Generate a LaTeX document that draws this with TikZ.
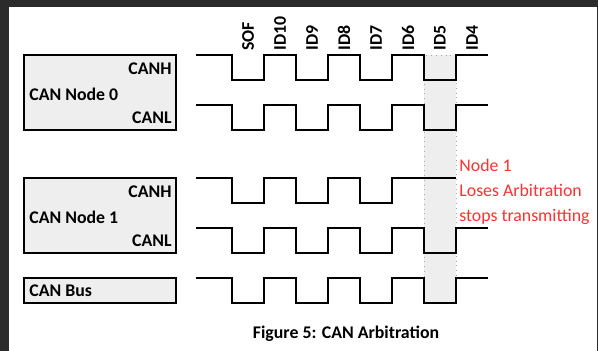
\documentclass[tikz,border=0pt]{standalone}
\usepackage{fontspec}
\setmainfont{Carlito}
\definecolor{framegray}{HTML}{2B2B2B}
\definecolor{boxgray}{HTML}{EEEEEE}
\definecolor{lostred}{HTML}{FF3333}

% one CAN waveform: #1 = high level, #2 = low level
\newcommand{\canwave}[2]{%
  \draw[wave] (196,#1) -- (232,#1) -- (232,#2) -- (264,#2) -- (264,#1)
    -- (296,#1) -- (296,#2) -- (328,#2) -- (328,#1) -- (360,#1)
    -- (360,#2) -- (392,#2) -- (392,#1) -- (424,#1) -- (424,#2)
    -- (456,#2) -- (456,#1) -- (488,#1);}

\begin{document}
\begin{tikzpicture}[
  x=0.5pt, y=-0.5pt,
  txt/.style={font=\fontsize{8.9}{12.4}\selectfont\bfseries, inner sep=0pt},
  unit/.style={draw, line width=1pt, fill=boxgray, minimum width=76pt,
               inner sep=0pt},
  wave/.style={line width=1.2pt},
  bitlbl/.style={txt, rotate=90, anchor=west},
]
\useasboundingbox (0,0) rectangle (598,351);
\fill[framegray] (0,0) rectangle (598,351);
\fill[white] (9,7) rectangle (597,351);

% ---- Column where node 1 loses arbitration ----
\draw[gray!70, dotted, fill=boxgray] (424,55) rectangle (456,303);

% ---- Bit labels ----
\node[bitlbl] (sof) at (248,51) {SOF};
\node[bitlbl] (id10) at (280,51) {ID10};
\node[bitlbl] (id9) at (312,51) {ID9};
\node[bitlbl] (id8) at (344,51) {ID8};
\node[bitlbl] (id7) at (376,51) {ID7};
\node[bitlbl] (id6) at (408,51) {ID6};
\node[bitlbl] (id5) at (440,51) {ID5};
\node[bitlbl] (id4) at (472,51) {ID4};

% ---- CAN Node 0 ----
\node[unit, minimum height=37.5pt] (node0) at (100,92.5) {};
\node[txt, anchor=east] (h0) at (172,69) {CANH};
\node[txt, anchor=west] (name0) at (29,94) {CAN Node 0};
\node[txt, anchor=east] (l0) at (172,118) {CANL};
\canwave{55}{80}
\canwave{105}{130}

% ---- CAN Node 1 ----
\node[unit, minimum height=37.5pt] (node1) at (100,215.5) {};
\node[txt, anchor=east] (h1) at (172,192) {CANH};
\node[txt, anchor=west] (name1) at (29,217) {CAN Node 1};
\node[txt, anchor=east] (l1) at (172,241) {CANL};
\draw[wave] (196,178) -- (232,178) -- (232,203) -- (264,203) -- (264,178)
  -- (296,178) -- (296,203) -- (328,203) -- (328,178) -- (360,178)
  -- (360,203) -- (392,203) -- (392,178) -- (456,178);
\canwave{228}{253}

% ---- CAN Bus ----
\node[unit, minimum height=12.5pt] (bus) at (100,290.5) {};
\node[txt, anchor=west] (busname) at (29,291) {CAN Bus};
\canwave{278}{303}

% ---- Note and caption ----
\node[font=\fontsize{8.9}{12.4}\selectfont, text=lostred, align=left,
      anchor=west, inner sep=0pt] (lost) at (459,192)
  {Node 1\\Loses Arbitration\\stops transmitting};
\node[txt] (caption) at (346,334) {Figure 5: CAN Arbitration};
\end{tikzpicture}
\end{document}
